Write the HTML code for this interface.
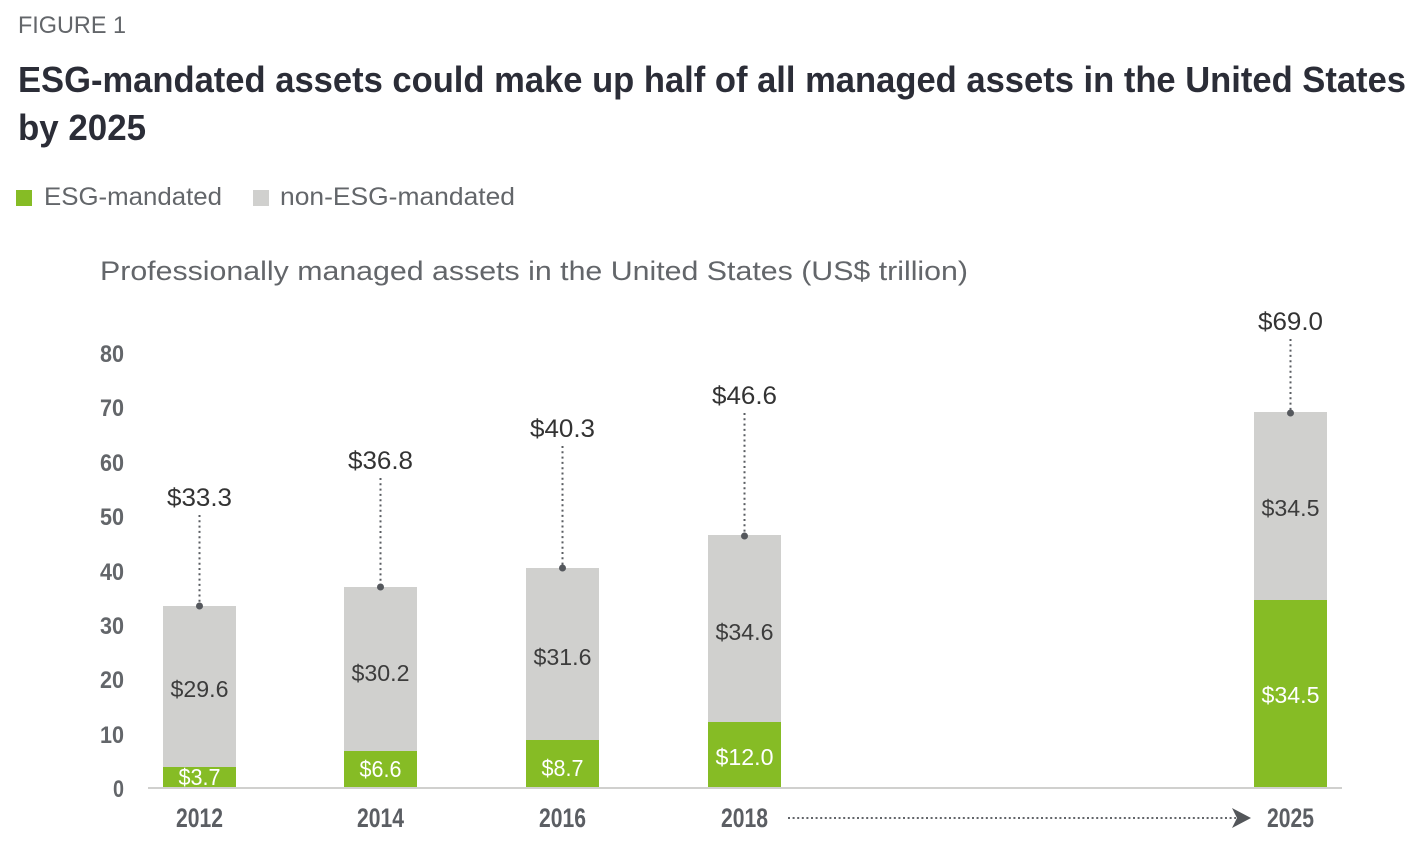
<!DOCTYPE html>
<html>
<head>
<meta charset="utf-8">
<style>
  html, body { margin: 0; padding: 0; background: #ffffff; }
  svg { display: block; }
  .cond { font-family: "Liberation Sans Narrow", "Liberation Sans", sans-serif; font-weight: bold; }
  .reg { font-family: "Liberation Sans", "DejaVu Sans", sans-serif; }
</style>
</head>
<body>
<svg width="1424" height="866" viewBox="0 0 1424 866" xmlns="http://www.w3.org/2000/svg">
  <rect x="0" y="0" width="1424" height="866" fill="#ffffff"/>

  <!-- Header -->
  <text class="reg" x="18" y="33" font-size="24" fill="#63666a" textLength="108" lengthAdjust="spacingAndGlyphs">FIGURE 1</text>
  <text class="cond" x="18" y="92" font-size="36" fill="#2b2d37" textLength="1388" lengthAdjust="spacingAndGlyphs">ESG-mandated assets could make up half of all managed assets in the United States</text>
  <text class="cond" x="18" y="140" font-size="36" fill="#2b2d37" textLength="128" lengthAdjust="spacingAndGlyphs">by 2025</text>

  <!-- Legend -->
  <rect x="16" y="190" width="16" height="16" fill="#86bc25"/>
  <text class="reg" x="44" y="205" font-size="25" fill="#63666a" textLength="178" lengthAdjust="spacingAndGlyphs">ESG-mandated</text>
  <rect x="253" y="190" width="16" height="16" fill="#d0d0ce"/>
  <text class="reg" x="280" y="205" font-size="25" fill="#63666a" textLength="235" lengthAdjust="spacingAndGlyphs">non-ESG-mandated</text>

  <!-- Subtitle -->
  <text class="reg" x="100" y="280" font-size="27" fill="#63666a" textLength="868" lengthAdjust="spacingAndGlyphs">Professionally managed assets in the United States (US$ trillion)</text>

  <!-- Y tick labels -->
  <g class="cond" font-size="24" fill="#63666a" text-anchor="end">
    <text x="124" y="362" textLength="24" lengthAdjust="spacingAndGlyphs">80</text>
    <text x="124" y="416" textLength="24" lengthAdjust="spacingAndGlyphs">70</text>
    <text x="124" y="471" textLength="24" lengthAdjust="spacingAndGlyphs">60</text>
    <text x="124" y="525" textLength="24" lengthAdjust="spacingAndGlyphs">50</text>
    <text x="124" y="580" textLength="24" lengthAdjust="spacingAndGlyphs">40</text>
    <text x="124" y="634" textLength="24" lengthAdjust="spacingAndGlyphs">30</text>
    <text x="124" y="688" textLength="24" lengthAdjust="spacingAndGlyphs">20</text>
    <text x="124" y="743" textLength="24" lengthAdjust="spacingAndGlyphs">10</text>
    <text x="124" y="797" textLength="11" lengthAdjust="spacingAndGlyphs">0</text>
  </g>

  <!-- Bars -->
  <rect x="163" y="606" width="73" height="161" fill="#d0d0ce"/>
  <rect x="163" y="767" width="73" height="20" fill="#86bc25"/>
  <rect x="344" y="587" width="73" height="164" fill="#d0d0ce"/>
  <rect x="344" y="751" width="73" height="36" fill="#86bc25"/>
  <rect x="526" y="568" width="73" height="172" fill="#d0d0ce"/>
  <rect x="526" y="740" width="73" height="47" fill="#86bc25"/>
  <rect x="708" y="535" width="73" height="187" fill="#d0d0ce"/>
  <rect x="708" y="722" width="73" height="65" fill="#86bc25"/>
  <rect x="1254" y="412" width="73" height="188" fill="#d0d0ce"/>
  <rect x="1254" y="600" width="73" height="187" fill="#86bc25"/>

  <!-- Axis line -->
  <rect x="148" y="787" width="1194" height="2" fill="#d0d0ce"/>

  <!-- Inner labels (grey segments) -->
  <g class="reg" font-size="23" fill="#3c3c3c" text-anchor="middle">
    <text x="199.5" y="697" textLength="58" lengthAdjust="spacingAndGlyphs">$29.6</text>
    <text x="380.5" y="681" textLength="58" lengthAdjust="spacingAndGlyphs">$30.2</text>
    <text x="562.5" y="665" textLength="58" lengthAdjust="spacingAndGlyphs">$31.6</text>
    <text x="744.5" y="640" textLength="58" lengthAdjust="spacingAndGlyphs">$34.6</text>
    <text x="1290.5" y="516" textLength="58" lengthAdjust="spacingAndGlyphs">$34.5</text>
  </g>
  <!-- Inner labels (green segments) -->
  <g class="reg" font-size="23" fill="#ffffff" text-anchor="middle">
    <text x="199.5" y="785" textLength="42" lengthAdjust="spacingAndGlyphs">$3.7</text>
    <text x="380.5" y="777" textLength="42" lengthAdjust="spacingAndGlyphs">$6.6</text>
    <text x="562.5" y="776" textLength="42" lengthAdjust="spacingAndGlyphs">$8.7</text>
    <text x="744.5" y="765" textLength="58" lengthAdjust="spacingAndGlyphs">$12.0</text>
    <text x="1290.5" y="703" textLength="58" lengthAdjust="spacingAndGlyphs">$34.5</text>
  </g>

  <!-- Totals -->
  <g class="reg" font-size="25" fill="#333333" text-anchor="middle">
    <text x="199.5" y="506" textLength="65" lengthAdjust="spacingAndGlyphs">$33.3</text>
    <text x="380.5" y="469" textLength="65" lengthAdjust="spacingAndGlyphs">$36.8</text>
    <text x="562.5" y="437" textLength="65" lengthAdjust="spacingAndGlyphs">$40.3</text>
    <text x="744.5" y="404" textLength="65" lengthAdjust="spacingAndGlyphs">$46.6</text>
    <text x="1290.5" y="330" textLength="65" lengthAdjust="spacingAndGlyphs">$69.0</text>
  </g>

  <!-- Dotted leaders -->
  <g stroke="#5a5d62" stroke-width="2" stroke-dasharray="2 3.3" fill="none">
    <line x1="199.5" y1="515" x2="199.5" y2="604"/>
    <line x1="380.5" y1="478" x2="380.5" y2="585"/>
    <line x1="562.5" y1="446" x2="562.5" y2="566"/>
    <line x1="744.5" y1="413" x2="744.5" y2="533"/>
    <line x1="1290.5" y1="339" x2="1290.5" y2="410"/>
  </g>
  <g fill="#55585d">
    <circle cx="199.5" cy="606" r="3.5"/>
    <circle cx="380.5" cy="587" r="3.5"/>
    <circle cx="562.5" cy="568" r="3.5"/>
    <circle cx="744.5" cy="536" r="3.5"/>
    <circle cx="1290.5" cy="413" r="3.5"/>
  </g>

  <!-- Year labels -->
  <g class="cond" font-size="27" fill="#5b5e63" text-anchor="middle">
    <text x="199.5" y="827" textLength="47" lengthAdjust="spacingAndGlyphs">2012</text>
    <text x="380.5" y="827" textLength="47" lengthAdjust="spacingAndGlyphs">2014</text>
    <text x="562.5" y="827" textLength="47" lengthAdjust="spacingAndGlyphs">2016</text>
    <text x="744.5" y="827" textLength="47" lengthAdjust="spacingAndGlyphs">2018</text>
    <text x="1290.5" y="827" textLength="47" lengthAdjust="spacingAndGlyphs">2025</text>
  </g>

  <!-- Dotted arrow 2018 -> 2025 -->
  <line x1="788" y1="818" x2="1236" y2="818" stroke="#63666a" stroke-width="2" stroke-dasharray="2 2.6"/>
  <polygon points="1232,808 1251,818 1232,828 1237,818" fill="#53565a"/>
</svg>
</body>
</html>
